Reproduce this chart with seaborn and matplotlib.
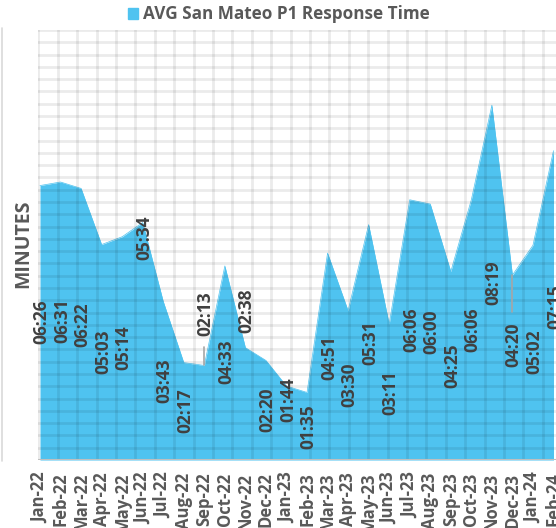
import matplotlib
matplotlib.use("Agg")
import matplotlib.pyplot as plt
from matplotlib.lines import Line2D
import numpy as np
import pandas as pd
import seaborn as sns

# Monthly average P1 response times (mm:ss)
months = ["Jan-22", "Feb-22", "Mar-22", "Apr-22", "May-22", "Jun-22", "Jul-22",
          "Aug-22", "Sep-22", "Oct-22", "Nov-22", "Dec-22", "Jan-23", "Feb-23",
          "Mar-23", "Apr-23", "May-23", "Jun-23", "Jul-23", "Aug-23", "Sep-23",
          "Oct-23", "Nov-23", "Dec-23", "Jan-24", "Feb-24"]
response_times = ["06:26", "06:31", "06:22", "05:03", "05:14", "05:34", "03:43",
                  "02:17", "02:13", "04:33", "02:38", "02:20", "01:44", "01:35",
                  "04:51", "03:30", "05:31", "03:11", "06:06", "06:00", "04:25",
                  "06:06", "08:19", "04:20", "05:02", "07:15"]


def to_minutes(t):
    m, s = t.split(":")
    return int(m) + int(s) / 60.0


df = pd.DataFrame({"month": months, "label": response_times})
df["pos"] = np.arange(len(df))
df["minutes"] = df["label"].map(to_minutes)

# Where each value label sits (centre, in minutes)
label_centres = [3.23, 3.26, 3.16, 2.53, 2.63, 5.20, 1.85, 1.15, 3.42, 2.30,
                 3.49, 1.17, 1.41, 0.77, 2.41, 1.76, 2.74, 1.57, 3.05, 3.00,
                 2.20, 3.05, 4.15, 2.70, 2.53, 3.59]
# Labels joined to their point by a leader line: month -> line start
leaders = {"Sep-22": 2.65, "Dec-23": 3.47}

fill_color = "#4FC3F0"
text_dark = "#404040"
text_grey = "#595959"

sns.set_theme(style="white")
plt.rcParams["font.family"] = ["Open Sans", "DejaVu Sans"]

W, H = 556, 528
fig = plt.figure(figsize=(W / 100, H / 100), dpi=100)
left_px, top_px, bottom_px = 38.3, 30, 460
ax = fig.add_axes([left_px / W, (H - bottom_px) / H, 1 - left_px / W,
                   (bottom_px - top_px) / H])

ymax = 0.007 * 24 * 60          # 0.007 day
step_y = 0.0002 * 24 * 60       # 0.0002 day
px_per_month = 20.54
x0 = -(40 - left_px) / px_per_month
x1 = x0 + (W - left_px) / px_per_month
ax.set_xlim(x0, x1)
ax.set_ylim(0, ymax)

# Area series
ax.fill_between(df["pos"], 0, df["minutes"], color=fill_color, lw=0, zorder=1)
sns.lineplot(data=df, x="pos", y="minutes", ax=ax, color=fill_color,
             lw=0.5, zorder=1.5, legend=False)

# Fine grid drawn over the area
for yv in np.arange(0, ymax + 1e-6, step_y):
    ax.axhline(yv, color="black", alpha=0.08, lw=2.0, zorder=2)
step_x = 19.4 / px_per_month
for xv in np.arange(x0, x1 + step_x, step_x):
    ax.axvline(xv, color="black", alpha=0.08, lw=2.0, zorder=2)

# Value labels
for i, row in df.iterrows():
    ax.text(row["pos"] + 0.07, label_centres[i], row["label"], rotation=90,
            ha="center", va="center", fontsize=12.5, fontweight="bold",
            color=text_dark, zorder=4)

for m, start in leaders.items():
    r = df[df["month"] == m].iloc[0]
    ax.plot([r["pos"], r["pos"]], [start, r["minutes"]], color="#A6A6A6",
            lw=1.2, zorder=3)

for s in ax.spines.values():
    s.set_visible(False)
ax.axhline(0, color="#BFBFBF", lw=1.5, zorder=3)

ax.set_xticks(df["pos"])
ax.set_xticklabels(df["month"], rotation=90, fontsize=12, fontweight="bold",
                   color=text_grey, va="top", ha="center")
ax.tick_params(axis="x", length=0, pad=9)
ax.set_yticks([])
ax.set_xlabel("")
ax.set_ylabel("")

fig.text(23 / W, 1 - 244 / H, "MINUTES", rotation=90, ha="center",
         va="center", fontsize=14, fontweight="bold", color=text_grey)

# Legend-style title
fig.patches.append(plt.Rectangle((127.5 / W, 1 - 19 / H), 10.5 / W, 10.5 / H,
                                 transform=fig.transFigure, color=fill_color))
fig.text(143 / W, 1 - 14 / H, "AVG San Mateo P1 Response Time", ha="left",
         va="center", fontsize=12.3, fontweight="bold", color=text_grey)

# Chart-area border on the left
fig.add_artist(Line2D([1.5 / W, 1.5 / W], [1 - 28 / H, 1 - 461 / H],
                      transform=fig.transFigure, color="#D9D9D9", lw=1.2))

fig.savefig("out.png", dpi=100)
